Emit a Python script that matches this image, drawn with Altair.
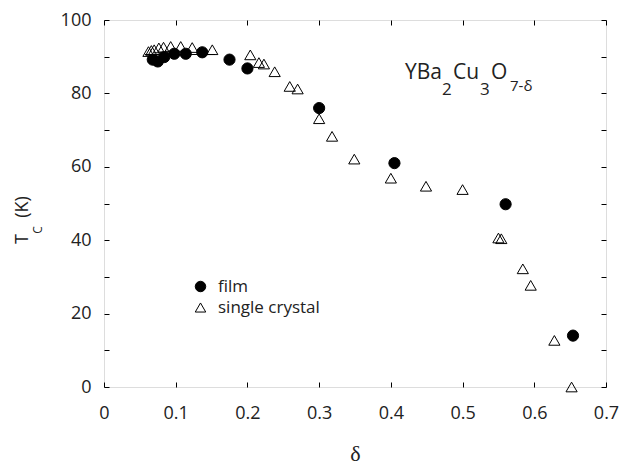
import altair as alt
import pandas as pd

# ---- data ----
film_delta = [0.068, 0.075, 0.084, 0.098, 0.114, 0.137, 0.175, 0.200, 0.300, 0.405, 0.560, 0.654]
film_tc = [89.2, 88.7, 89.9, 90.8, 90.8, 91.2, 89.2, 86.8, 76.0, 61.0, 49.8, 14.0]

crystal_delta = [0.062, 0.066, 0.070, 0.0765, 0.083, 0.093, 0.107, 0.123, 0.151, 0.204,
                 0.216, 0.223, 0.238, 0.259, 0.270, 0.300, 0.318, 0.349, 0.400, 0.449,
                 0.500, 0.550, 0.554, 0.584, 0.595, 0.628, 0.652]
crystal_tc = [91.4, 91.7, 91.9, 92.4, 92.6, 92.8, 92.8, 92.5, 91.9, 90.5,
              88.4, 88.0, 85.9, 81.9, 81.2, 73.1, 68.3, 62.1, 56.9, 54.7,
              53.8, 40.6, 40.4, 32.2, 27.7, 12.7, 0.0]

fit_delta = [0.057, 0.155]
fit_tc = [90.6, 90.6]

series_names = ["film", "single crystal"]
x_ticks = [0, 0.1, 0.2, 0.3, 0.4, 0.5, 0.6, 0.7]
y_ticks = [0, 10, 20, 30, 40, 50, 60, 70, 80, 90, 100]

points = pd.DataFrame(
    {"delta": crystal_delta, "tc": crystal_tc, "series": ["single crystal"] * len(crystal_delta)}
)
points = pd.concat(
    [points, pd.DataFrame({"delta": film_delta, "tc": film_tc, "series": ["film"] * len(film_delta)})],
    ignore_index=True,
)
fit = pd.DataFrame({"delta": fit_delta, "tc": fit_tc})

FONT = "Open Sans"
xscale = alt.Scale(domain=[0, 0.7], nice=False, zero=False)
yscale = alt.Scale(domain=[0, 100], nice=False, zero=False)

# fit line, carries the top/right tick axes
line = alt.Chart(fit).mark_line(color="black", strokeWidth=1).encode(
    x=alt.X("delta:Q", scale=xscale,
            axis=alt.Axis(orient="top", values=x_ticks, labels=False, title=None,
                          domain=False, grid=False, tickSize=5, offset=-5,
                          tickColor="black")),
    y=alt.Y("tc:Q", scale=yscale,
            axis=alt.Axis(orient="right", values=y_ticks, labels=False, title=None,
                          domain=False, grid=False, tickSize=5, offset=-5,
                          tickColor="black")),
)

legend = alt.Legend(title=None, orient="none", legendX=88, legendY=258,
                    labelFont=FONT, labelFontSize=17, labelColor="#222",
                    symbolSize=110, symbolStrokeColor="black",
                    symbolStrokeWidth=1, rowPadding=3, labelOffset=9,
                    padding=0)

pts = alt.Chart(points).mark_point(strokeWidth=1, opacity=1, size=125).encode(
    x=alt.X("delta:Q", scale=xscale,
            axis=alt.Axis(orient="bottom", values=x_ticks, format="~g", title="δ",
                          domain=False, grid=False, tickSize=5, offset=-5,
                          tickColor="black", labelFont=FONT, labelFontSize=18,
                          labelColor="#222", labelPadding=17, labelFlush=False,
                          titleFont="Liberation Serif", titleFontSize=22,
                          titleFontWeight="normal", titleColor="#222",
                          titleBaseline="alphabetic", titleY=78)),
    y=alt.Y("tc:Q", scale=yscale,
            axis=alt.Axis(orient="left", values=y_ticks, title=None,
                          labelExpr="datum.value % 20 == 0 ? datum.label : ''",
                          domain=False, grid=False, tickSize=5, offset=-5,
                          tickColor="black", labelFont=FONT, labelFontSize=18,
                          labelColor="#222", labelPadding=13, labelFlush=False)),
    shape=alt.Shape("series:N",
                    scale=alt.Scale(domain=series_names, range=["circle", "triangle-up"]),
                    legend=legend),
    fill=alt.Fill("series:N",
                  scale=alt.Scale(domain=series_names, range=["black", "transparent"]),
                  legend=legend),
    stroke=alt.Stroke("series:N",
                      scale=alt.Scale(domain=series_names, range=["black", "black"]),
                      legend=legend),
)

one = alt.Data(values=[{"k": 1}])


def txt(s, x, y, size, angle=0, font=FONT, align="left"):
    return alt.Chart(one).mark_text(
        text=s, font=font, fontSize=size, color="#222", align=align,
        baseline="alphabetic", angle=angle,
    ).encode(x=alt.value(x), y=alt.value(y))


# y-axis title T_C (K), rotated
ytitle = [
    txt("T", -76, 219, 18, angle=270, align="center"),
    txt("C", -62, 210, 12, angle=270, align="center"),
    txt("(K)", -76, 187, 18, angle=270, align="center"),
]

# formula annotation YBa2Cu3O7-δ
formula = [
    txt("YBa", 301, 59, 21),
    txt("2", 338, 75, 17),
    txt("Cu", 349, 59, 21),
    txt("3", 376, 75, 17),
    txt("O", 387, 59, 21),
    txt("7-δ", 406, 71, 15),
]

chart = alt.layer(line, pts, *ytitle, *formula).resolve_axis(
    x="independent", y="independent"
).properties(
    width=502, height=367,
    autosize=alt.AutoSizeParams(type="none"),
    padding={"left": 104, "top": 20, "right": 17, "bottom": 77},
).configure_view(stroke="black", strokeWidth=1).configure(background="white")

chart.save("out.html", embed_options={"renderer": "svg", "actions": False})
